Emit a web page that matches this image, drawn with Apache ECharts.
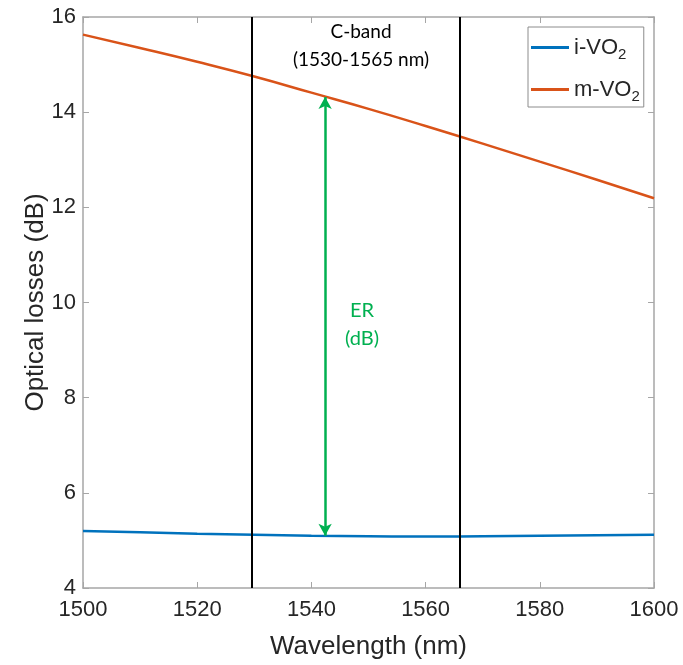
<!DOCTYPE html>
<html>
<head>
<meta charset="utf-8">
<script src="https://cdn.jsdelivr.net/npm/echarts@6/dist/echarts.min.js"></script>
<style>
html,body{margin:0;padding:0;background:#fff;}
#chart{width:683px;height:665px;}
</style>
</head>
<body>
<div id="chart"></div>
<script>
// Wavelength samples (nm)
const wavelength = [1500, 1510, 1520, 1530, 1540, 1550, 1560, 1570, 1580, 1590, 1600];
// Optical losses (dB) for insulating and metallic VO2
const lossInsulating = [5.20, 5.17, 5.14, 5.12, 5.10, 5.09, 5.08, 5.09, 5.10, 5.11, 5.12];
const lossMetallic = [15.63, 15.35, 15.06, 14.75, 14.41, 14.07, 13.71, 13.34, 12.96, 12.58, 12.19];
const seriesNames = ['i-VO2', 'm-VO2'];
// C-band boundaries and ER marker position
const cBandEdges = [1529.5, 1566];
const erWavelength = 1542.4;
const erLow = 5.10;
const erHigh = 14.32;

const chart = echarts.init(document.getElementById('chart'));
const axisGray = '#a6a6a6';
const textColor = '#262626';
const font = 'Liberation Sans, Arial, sans-serif';
const noteFont = 'Lato, Open Sans, sans-serif';

function pairs(xs, ys) { return xs.map((x, i) => [x, ys[i]]); }

const frameAxis = {
  axisLine: { show: true, lineStyle: { color: axisGray, width: 1.5 } },
  axisTick: { show: true, inside: true, length: 6, lineStyle: { color: axisGray } },
  splitLine: { show: false }
};

const option = {
  animation: false,
  backgroundColor: '#fff',
  grid: { left: 83, top: 17, right: 29, bottom: 76, containLabel: false },
  legend: {
    left: 528, top: 27,
    orient: 'vertical',
    data: seriesNames,
    icon: 'rect',
    itemWidth: 38, itemHeight: 3,
    itemGap: 13,
    padding: [6, 4, 3, 3],
    borderColor: '#8c8c8c', borderWidth: 1,
    backgroundColor: '#fff',
    formatter: function (name) {
      return '{a|' + name.slice(0, -1) + '}{s|' + name.slice(-1) + '}';
    },
    textStyle: {
      rich: {
        a: { fontSize: 22, fontFamily: font, color: textColor, lineHeight: 28 },
        s: { fontSize: 15, fontFamily: font, color: textColor, padding: [14, 0, 0, 0], lineHeight: 28 }
      }
    }
  },
  xAxis: [Object.assign({
    type: 'value', min: 1500, max: 1600, interval: 20,
    name: 'Wavelength (nm)', nameLocation: 'middle', nameGap: 46,
    nameTextStyle: { fontSize: 26, fontFamily: font, color: textColor },
    axisLabel: { fontSize: 22, fontFamily: font, color: textColor, margin: 11, formatter: v => String(v) }
  }, frameAxis), Object.assign({
    type: 'value', min: 1500, max: 1600, interval: 20, position: 'top',
    axisLabel: { show: false }
  }, frameAxis)],
  yAxis: [Object.assign({
    type: 'value', min: 4, max: 16, interval: 2,
    name: 'Optical losses (dB)', nameLocation: 'middle', nameGap: 34,
    nameMoveOverlap: false,
    nameTextStyle: { fontSize: 26, fontFamily: font, color: textColor },
    axisLabel: { fontSize: 22, fontFamily: font, color: textColor, margin: 7 }
  }, frameAxis), Object.assign({
    type: 'value', min: 4, max: 16, interval: 2, position: 'right',
    axisLabel: { show: false }
  }, frameAxis)],
  series: [
    {
      name: seriesNames[0], type: 'line', smooth: true, showSymbol: false,
      data: pairs(wavelength, lossInsulating),
      itemStyle: { color: '#0072bd' },
      lineStyle: { color: '#0072bd', width: 2.5 }
    },
    {
      name: seriesNames[1], type: 'line', smooth: true, showSymbol: false,
      data: pairs(wavelength, lossMetallic),
      itemStyle: { color: '#d95319' },
      lineStyle: { color: '#d95319', width: 2.5 },
      markLine: {
        silent: true, symbol: ['none', 'none'],
        label: { show: false },
        lineStyle: { color: '#000', width: 2, type: 'solid' },
        data: cBandEdges.map(x => ({ xAxis: x }))
      }
    },
    {
      // extinction-ratio arrow between the two states
      name: 'ER', type: 'line', data: [], silent: true,
      markLine: {
        silent: true, symbol: ['arrow', 'arrow'], symbolSize: [10, 12],
        label: { show: false },
        lineStyle: { color: '#00b050', width: 2.5, type: 'solid' },
        data: [[{ coord: [erWavelength, erLow] }, { coord: [erWavelength, erHigh] }]]
      }
    }
  ],
  graphic: [
    {
      type: 'text', x: 361, y: 18,
      style: {
        text: 'C-band\n(1530-1565 nm)', textAlign: 'center', textVerticalAlign: 'top',
        fontSize: 19, lineHeight: 28, fontFamily: noteFont, fill: '#000'
      }
    },
    {
      type: 'text', x: 362, y: 297,
      style: {
        text: 'ER\n(dB)', textAlign: 'center', textVerticalAlign: 'top',
        fontSize: 20, lineHeight: 28, fontFamily: noteFont, fill: '#00b050'
      }
    }
  ]
};
chart.setOption(option);
</script>
</body>
</html>
